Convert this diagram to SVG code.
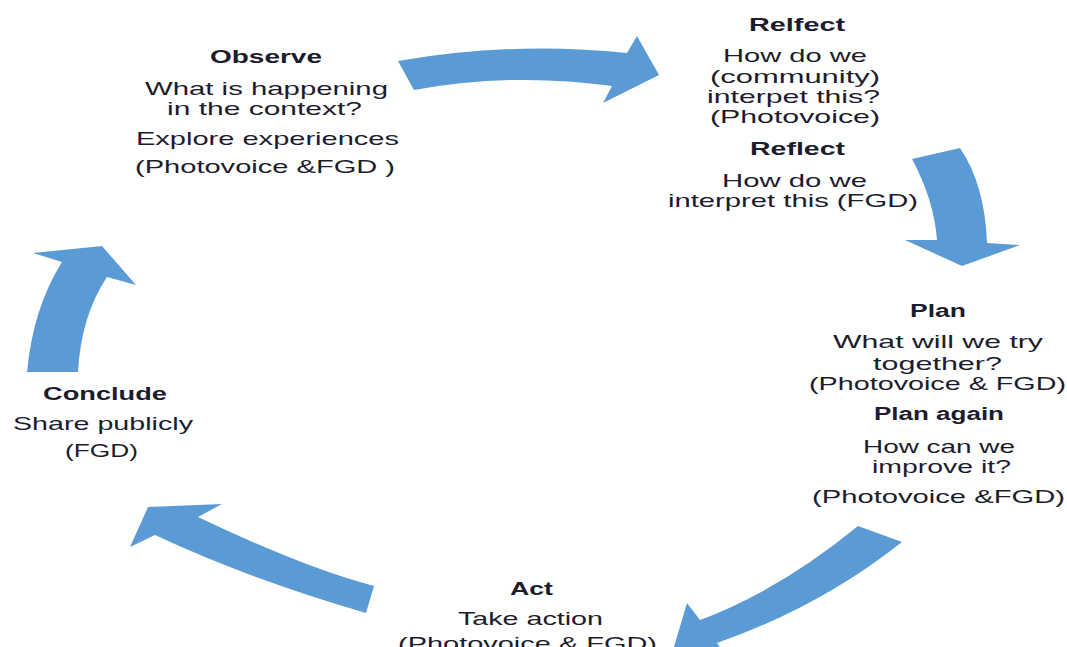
<svg xmlns="http://www.w3.org/2000/svg" width="1067" height="647" viewBox="0 0 1067 647">
<style>
  .arrow { fill: #5b9bd5; }
  text { font-family: "Liberation Sans", Arial, sans-serif; fill: #1c1c2e; lengthAdjust: spacingAndGlyphs; }
  .h { font-size: 18px; font-weight: bold; }
  .t { font-size: 19px; }
</style>
<rect width="1067" height="647" fill="#ffffff"/>
<g id="connectors">
  <path class="arrow" d="M398,61 Q513,41 627,53 L637,36 L659,75 L603,103 L612,86 Q513,72 414,90 Z"/>
  <path class="arrow" d="M912,159 L960,148 Q985,185 987,243 L1020,245 L962,266 L905,240 L937,240 Q934,200 912,159 Z"/>
  <path class="arrow" d="M858,526 L902,542 Q820,607 717,643 L727,657 L671,657 L687,603 L700,620 Q780,590 858,526 Z"/>
  <path class="arrow" d="M374,586 Q305,568 198,517 L222,504 L148,507 L130,547 L155,535 Q249,579 366,613 Z"/>
  <path class="arrow" d="M27,372 Q33,308 62,262 L33,253 L102,246 L136,285 L107,277 Q81,316 78,372 Z"/>
</g>
<g id="observe">
  <text class="h" x="210" y="63" textLength="112" lengthAdjust="spacingAndGlyphs">Observe</text>
  <text class="t" x="145" y="95" textLength="243" lengthAdjust="spacingAndGlyphs">What is happening</text>
  <text class="t" x="167" y="115" textLength="195" lengthAdjust="spacingAndGlyphs">in the context?</text>
  <text class="t" x="136" y="145" textLength="263" lengthAdjust="spacingAndGlyphs">Explore experiences</text>
  <text class="t" x="135" y="173" textLength="260" lengthAdjust="spacingAndGlyphs">(Photovoice &amp;FGD )</text>
</g>
<g id="reflect">
  <text class="h" x="749" y="31" textLength="96" lengthAdjust="spacingAndGlyphs">Relfect</text>
  <text class="t" x="723" y="62" textLength="144" lengthAdjust="spacingAndGlyphs">How do we</text>
  <text class="t" x="710" y="83" textLength="170" lengthAdjust="spacingAndGlyphs">(community)</text>
  <text class="t" x="707" y="103" textLength="173" lengthAdjust="spacingAndGlyphs">interpet this?</text>
  <text class="t" x="710" y="123" textLength="170" lengthAdjust="spacingAndGlyphs">(Photovoice)</text>
  <text class="h" x="750" y="155" textLength="95" lengthAdjust="spacingAndGlyphs">Reflect</text>
  <text class="t" x="722" y="187" textLength="145" lengthAdjust="spacingAndGlyphs">How do we</text>
  <text class="t" x="668" y="207" textLength="250" lengthAdjust="spacingAndGlyphs">interpret this (FGD)</text>
</g>
<g id="plan">
  <text class="h" x="910" y="317" textLength="56" lengthAdjust="spacingAndGlyphs">Plan</text>
  <text class="t" x="833" y="348" textLength="210" lengthAdjust="spacingAndGlyphs">What will we try</text>
  <text class="t" x="873" y="370" textLength="129" lengthAdjust="spacingAndGlyphs">together?</text>
  <text class="t" x="809" y="390" textLength="257" lengthAdjust="spacingAndGlyphs">(Photovoice &amp; FGD)</text>
  <text class="h" x="874" y="420" textLength="130" lengthAdjust="spacingAndGlyphs">Plan again</text>
  <text class="t" x="863" y="453" textLength="152" lengthAdjust="spacingAndGlyphs">How can we</text>
  <text class="t" x="872" y="473" textLength="139" lengthAdjust="spacingAndGlyphs">improve it?</text>
  <text class="t" x="812" y="503" textLength="253" lengthAdjust="spacingAndGlyphs">(Photovoice &amp;FGD)</text>
</g>
<g id="act">
  <text class="h" x="510" y="595" textLength="43" lengthAdjust="spacingAndGlyphs">Act</text>
  <text class="t" x="458" y="625" textLength="145" lengthAdjust="spacingAndGlyphs">Take action</text>
  <text class="t" x="398" y="650" textLength="259" lengthAdjust="spacingAndGlyphs">(Photovoice &amp; FGD)</text>
</g>
<g id="conclude">
  <text class="h" x="43" y="400" textLength="124" lengthAdjust="spacingAndGlyphs">Conclude</text>
  <text class="t" x="13" y="430" textLength="180" lengthAdjust="spacingAndGlyphs">Share publicly</text>
  <text class="t" x="65" y="457" textLength="73" lengthAdjust="spacingAndGlyphs">(FGD)</text>
</g>
</svg>
